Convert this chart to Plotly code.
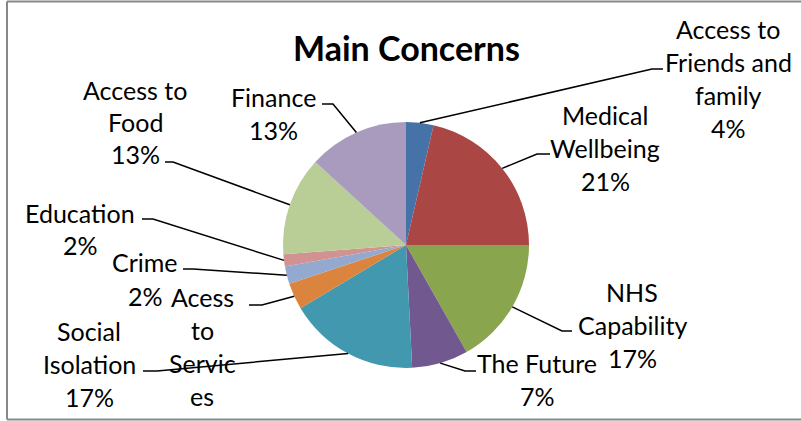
import math
import plotly.graph_objects as go

# slice data, clockwise from 12 o'clock
labels = ["Access to Friends and family", "Medical Wellbeing", "NHS Capability",
          "The Future", "Social Isolation", "Acess to Services", "Crime",
          "Education", "Access to Food", "Finance"]
values = [3.6, 21.4, 16.8, 7.4, 17.2, 3.5, 2.3, 1.6, 13.0, 13.2]
pct_text = ["4%", "21%", "17%", "7%", "17%", "4%", "2%", "2%", "13%", "13%"]
colors = ["#4572A7", "#AA4643", "#89A54E", "#71588F", "#4198AF",
          "#DB843D", "#93A9CF", "#D19392", "#B9CD96", "#A99BBD"]

# how the label text wraps (as in the original)
label_lines = [
    ["Access to", "Friends and", "family"],
    ["Medical", "Wellbeing"],
    ["NHS", "Capability"],
    ["The Future"],
    ["Social", "Isolation"],
    ["Acess", "to", "Servic", "es"],
    ["Crime"],
    ["Education"],
    ["Access to", "Food"],
    ["Finance"],
]

# label layout in pixels: centre x, first line y, line spacing, leader elbow, leader end
label_pos = [(728, 29, 33), (605, 115, 33), (632, 292, 33), (537, 363, 33),
             (89, 331, 33), (202, 297, 33), (145, 262, 34), (80, 213, 32),
             (135, 90, 32), (273, 97, 33)]
elbows = [((652, 69), (663, 69)), ((537, 154), (550, 154)),
          ((562, 331), (572, 331)), ((465, 371), (476, 371)),
          ((157, 371), (143, 371)), ((262, 305), (249, 305)),
          ((193, 269), (183, 269)), ((153, 219), (142, 219)),
          ((173, 162), (165, 162)), ((333, 104), (322, 104))]

W, H = 801, 421
CX, CY, R = 406, 245, 123
FONT = "Lato, Carlito, Calibri, sans-serif"

fig = go.Figure()
fig.add_trace(go.Pie(
    labels=labels, values=values, sort=False, direction="clockwise",
    rotation=0, textinfo="none", hoverinfo="label+percent",
    marker=dict(colors=colors, line=dict(width=0)),
    domain=dict(x=[(CX - R) / W, (CX + R) / W],
                y=[1 - (CY + R) / H, 1 - (CY - R) / H]),
    showlegend=False,
))

shapes = []
annotations = []
total = sum(values)
cum = 0
for i, v in enumerate(values):
    mid = (cum + v / 2) / total * 2 * math.pi
    cum += v
    px = CX + R * math.sin(mid)
    py = CY - R * math.cos(mid)
    (ex, ey), (hx, hy) = elbows[i]
    shapes.append(dict(type="path", xref="x", yref="y",
                       path=f"M {px:.1f} {py:.1f} L {ex} {ey} L {hx} {hy}",
                       line=dict(color="black", width=1.5)))
    lx, ly, lh = label_pos[i]
    for k, txt in enumerate(label_lines[i] + [pct_text[i]]):
        yy = ly + k * lh
        if yy > H - 5:
            # line that runs off the bottom of the chart: anchor its top inside
            annotations.append(dict(x=lx, y=yy - 16, xref="x", yref="y", text=txt,
                                    showarrow=False, xanchor="center", yanchor="top",
                                    font=dict(family=FONT, size=25, color="black")))
            continue
        annotations.append(dict(x=lx, y=yy, xref="x", yref="y",
                                text=txt, showarrow=False, xanchor="center",
                                yanchor="middle",
                                font=dict(family=FONT, size=25, color="black")))

# chart border: left, top and bottom edges (the right edge is off the picture)
for x0, y0, x1, y1 in [(7, 1.5, 7, 419.5), (7, 1.5, W, 1.5), (7, 419.5, W, 419.5)]:
    shapes.append(dict(type="line", xref="x", yref="y", x0=x0, y0=y0, x1=x1, y1=y1,
                       line=dict(color="#888888", width=2)))

annotations.append(dict(x=406, y=47, xref="x", yref="y", text="<b>Main Concerns</b>",
                        showarrow=False, xanchor="center", yanchor="middle",
                        font=dict(family=FONT, size=34, color="black")))

fig.update_layout(
    width=W, height=H,
    margin=dict(l=0, r=0, t=0, b=0),
    paper_bgcolor="white", plot_bgcolor="rgba(0,0,0,0)",
    xaxis=dict(range=[0, W], visible=False, fixedrange=True),
    yaxis=dict(range=[H, 0], visible=False, fixedrange=True),
    shapes=shapes, annotations=annotations,
)

# page body has a default 8px margin; drop it so the chart sits at the window corner
fig.write_html("out.html", config={"displayModeBar": False},
               post_script="document.body.style.margin='0';document.body.style.overflow='hidden';")
